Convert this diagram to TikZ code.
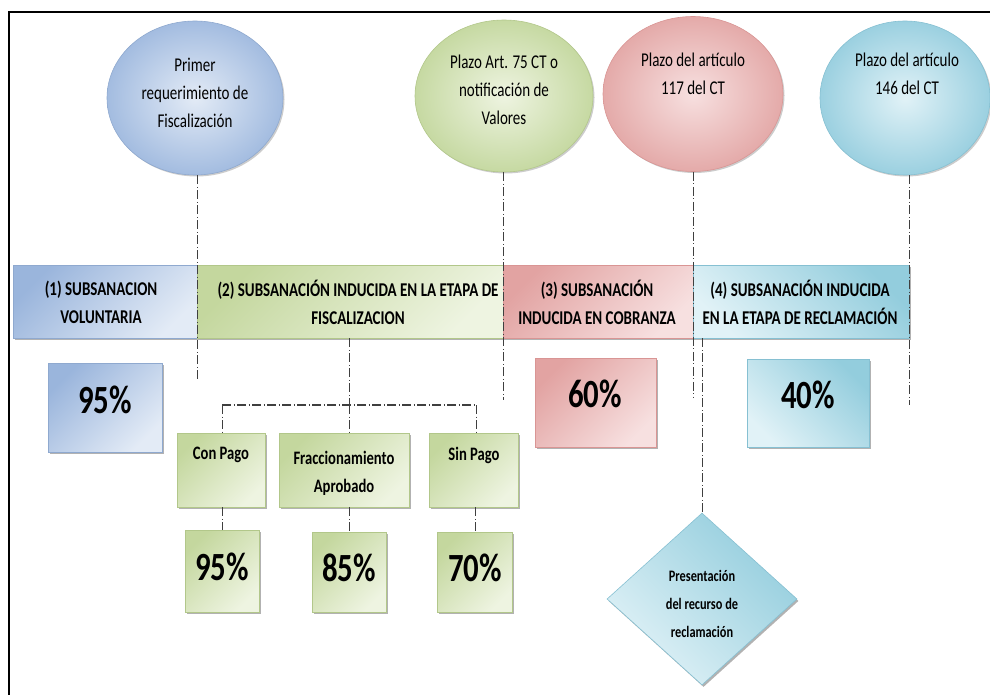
\documentclass[tikz,border=0pt]{standalone}
\usepackage{fontspec}
\setmainfont{Carlito}[FakeStretch=0.77]
\usetikzlibrary{shapes.geometric,shadows}
\definecolor{bluD}{HTML}{9AB5DC}
\definecolor{bluL}{HTML}{E3EBF6}
\definecolor{bluE}{HTML}{8FA9CF}
\definecolor{bluO}{HTML}{A3BCE0}
\definecolor{grnD}{HTML}{C4D79E}
\definecolor{grnL}{HTML}{EEF4E1}
\definecolor{grnE}{HTML}{B2C78A}
\definecolor{grnO}{HTML}{C6D9A2}
\definecolor{redD}{HTML}{E2A3A2}
\definecolor{redL}{HTML}{F7E0E0}
\definecolor{redE}{HTML}{D99594}
\definecolor{redO}{HTML}{E4AAA9}
\definecolor{cyaD}{HTML}{93CDDD}
\definecolor{cyaL}{HTML}{E1F2F7}
\definecolor{cyaE}{HTML}{86C0D2}
\definecolor{cyaO}{HTML}{9BD0E0}
\definecolor{lnC}{HTML}{3F3F3F}
\tikzset{
 dd/.style={draw=lnC, line width=1pt, dash pattern=on 9pt off 2.5pt on 1pt off 2.5pt},
 shd/.style={drop shadow={shadow xshift=1.5pt, shadow yshift=-2pt, fill=black, opacity=0.3}},
 shdE/.style={drop shadow={shadow xshift=1.5pt, shadow yshift=-1.5pt, fill=black, opacity=0.2}},
 ell/.style={ellipse, inner sep=0pt, shdE, line width=0.6pt},
 box/.style={rectangle, inner sep=0pt, shd, line width=0.6pt},
 dia/.style={diamond, inner sep=0pt, shd, line width=0.6pt},
 fB/.style={top color=bluD, bottom color=bluL, shading angle=45, draw=bluE},
 fG/.style={top color=grnD, bottom color=grnL, shading angle=45, draw=grnE},
 fR/.style={top color=redD, bottom color=redL, shading angle=45, draw=redE},
 fC/.style={top color=cyaD, bottom color=cyaL, shading angle=-45, draw=cyaE},
 rB/.style={inner color=bluL, outer color=bluO, draw=bluE},
 rG/.style={inner color=grnL, outer color=grnO, draw=grnE},
 rR/.style={inner color=redL, outer color=redO, draw=redE},
 rC/.style={inner color=cyaL, outer color=cyaO, draw=cyaE},
 etxt/.style={align=center, font=\fontsize{19.5}{28}\selectfont, inner sep=0pt},
 btxt/.style={align=center, font=\bfseries\fontsize{19.5}{28}\selectfont, inner sep=0pt},
 stxt/.style={align=center, font=\bfseries\fontsize{19}{28}\selectfont, inner sep=0pt},
 ptxt/.style={font=\bfseries\fontsize{40}{44}\selectfont, inner sep=0pt},
 dtxt/.style={align=center, font=\bfseries\fontsize{16}{28}\selectfont, inner sep=0pt},
}
\begin{document}
\begin{tikzpicture}[x=1pt,y=-1pt]
\useasboundingbox (0,0) rectangle (990,695);
\draw[line width=2pt] (9,695) -- (9,12) -- (990,12);

% ellipses
\node[ell, rB, minimum width=176pt, minimum height=154pt] (e1) at (195,98) {};
\node[ell, rG, minimum width=178pt, minimum height=152pt] (e2) at (504,96) {};
\node[ell, rR, minimum width=180pt, minimum height=155pt] (e3) at (693,94) {};
\node[ell, rC, minimum width=170pt, minimum height=154pt] (e4) at (905,98) {};
\node[etxt] (t1) at (195,93) {Primer\\requerimiento de\\Fiscalización};
\node[etxt] (t2) at (504,90) {Plazo Art. 75 CT o\\notificación de\\Valores};
\node[etxt] (t3) at (693,74) {Plazo del artículo\\117 del CT};
\node[etxt] (t4) at (907,74) {Plazo del artículo\\146 del CT};

% bands
\node[box, fB, minimum width=184pt, minimum height=73pt] (b1) at (105,301.5) {};
\node[box, fG, minimum width=306pt, minimum height=73pt] (b2) at (350,301.5) {};
\node[box, fR, minimum width=190pt, minimum height=73pt] (b3) at (598,301.5) {};
\node[box, fC, minimum width=216pt, minimum height=73pt] (b4) at (801,301.5) {};
\node[btxt] (bt1) at (101,302) {(1) SUBSANACION\\VOLUNTARIA};
\node[btxt] (bt2) at (358,302) {(2) SUBSANACIÓN INDUCIDA EN LA ETAPA DE\\FISCALIZACION};
\node[btxt] (bt3) at (597,302) {(3) SUBSANACIÓN\\INDUCIDA EN COBRANZA};
\node[btxt] (bt4) at (800,302) {(4) SUBSANACIÓN INDUCIDA\\EN LA ETAPA DE RECLAMACIÓN};

% percentage boxes
\node[box, fB, minimum width=114pt, minimum height=89pt] (p1) at (105,407.5) {};
\node[box, fR, minimum width=121pt, minimum height=89pt] (p3) at (595.5,402.5) {};
\node[box, fC, minimum width=122pt, minimum height=88pt] (p4) at (808,403) {};
\node[ptxt] (pt1) at (105,400) {95\%};
\node[ptxt] (pt3) at (595,394) {60\%};
\node[ptxt] (pt4) at (808,395) {40\%};

% sub boxes
\node[box, fG, minimum width=88pt, minimum height=74pt] (s1) at (221,470) {};
\node[box, fG, minimum width=130pt, minimum height=74pt] (s2) at (344,470) {};
\node[box, fG, minimum width=89pt, minimum height=74pt] (s3) at (474,470) {};
\node[stxt] (st1) at (221,455) {Con Pago};
\node[stxt] (st2) at (344,473) {Fraccionamiento\\Aprobado};
\node[stxt] (st3) at (474,455) {Sin Pago};

\node[box, fG, minimum width=74pt, minimum height=82pt] (q1) at (222,571) {};
\node[box, fG, minimum width=74pt, minimum height=80pt] (q2) at (349,572) {};
\node[box, fG, minimum width=75pt, minimum height=80pt] (q3) at (475,572) {};
\node[ptxt] (qt1) at (222,567) {95\%};
\node[ptxt] (qt2) at (349,568) {85\%};
\node[ptxt] (qt3) at (475,568) {70\%};

% diamond
\node[dia, fC, minimum width=190pt, minimum height=172pt] (d) at (702,599) {};
\node[dtxt] (dt) at (702,604) {Presentación\\del recurso de\\reclamación};

% connectors
\coordinate (v1) at (197,380);
\coordinate (v2) at (503,400);
\coordinate (v3) at (693,398);
\coordinate (v4) at (909,405);
\draw[dd] (e1.south -| v1) -- (v1);
\draw[dd] (e2.south -| v2) -- (v2);
\draw[dd] (e3.south -| v3) -- (v3);
\draw[dd] (e4.south -| v4) -- (v4);
\draw[dd] (b4.south -| d.north) -- (d.north);

\coordinate (hl) at (222,405);
\coordinate (hm) at (349,405);
\coordinate (hr) at (476,405);
\draw[dd, line width=1.3pt] (hl) -- (hr);
\draw[dd] (b2.south -| hm) -- (hm);
\draw[dd] (hl) -- (hl |- s1.north);
\draw[dd] (hm) -- (hm |- s2.north);
\draw[dd] (hr) -- (hr |- s3.north);
\draw[dd] (s1.south -| q1.north) -- (q1.north);
\draw[dd] (s2.south -| q2.north) -- (q2.north);
\draw[dd] (s3.south -| q3.north) -- (q3.north);
\end{tikzpicture}
\end{document}
